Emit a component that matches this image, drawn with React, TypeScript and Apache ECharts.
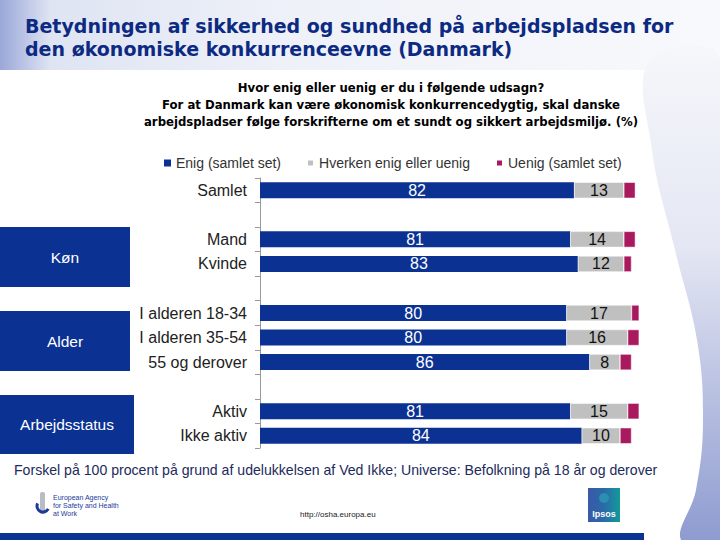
import React, { useEffect, useRef } from "react";
import * as echarts from "echarts";

const categories = [
  "Samlet", "", "Mand", "Kvinde", " ", "I alderen 18-34", "I alderen 35-54", "55 og derover", "  ", "Aktiv", "Ikke aktiv",
];
const enig = [82, null, 81, 83, null, 80, 80, 86, null, 81, 84];
const hverken = [13, null, 14, 12, null, 17, 16, 8, null, 15, 10];
const uenig = [3, null, 3, 2, null, 2, 3, 3, null, 3, 3];
const seriesNames = ["Enig (samlet set)", "Hverken enig eller uenig", "Uenig (samlet set)"];
const groupLabels = ["Køn", "Alder", "Arbejdsstatus"];

const FONT = "'Liberation Sans', Arial, sans-serif";
const WIDE = "'DejaVu Sans', sans-serif";
const NAVY = "#0b3293";
const GREY = "#c0c0c0";
const MAGENTA = "#a8195e";

export default function App() {
  const ref = useRef<HTMLDivElement>(null);
  useEffect(() => {
    document.body.style.margin = "0";
    const chart = echarts.init(ref.current!, null, { renderer: "svg" });
    const groupBox = (label: string, y: number, h: number, w: number) => ({
      type: "group",
      children: [
        { type: "rect", shape: { x: 0, y, width: w, height: h }, style: { fill: NAVY } },
        {
          type: "text",
          x: w / 2,
          y: y + h / 2,
          style: { text: label, fill: "#ffffff", font: `15.5px ${FONT}`, textAlign: "center", textVerticalAlign: "middle" },
        },
      ],
    });
    chart.setOption({
      animation: false,
      backgroundColor: "#ffffff",
      graphic: [
        {
          type: "rect",
          z: -10,
          shape: { x: 0, y: 0, width: 720, height: 70 },
          style: {
            fill: new echarts.graphic.LinearGradient(0, 0, 1, 0, [
              { offset: 0, color: "#9aa7d8" },
              { offset: 0.07, color: "#dfe4f3" },
              { offset: 0.4, color: "#eef1f8" },
              { offset: 1, color: "#f8f9fc" },
            ]),
          },
        },
        {
          type: "polygon",
          z: -9,
          shape: {
            smooth: 0.4,
            points: [
              [650, 60], [652, 150], [675, 250], [697, 340], [703, 420], [696, 490], [681, 540], [720, 540], [720, 60],
            ],
          },
          style: {
            fill: new echarts.graphic.LinearGradient(0, 0, 0, 1, [
              { offset: 0, color: "#f6f7fb" },
              { offset: 0.4, color: "#e4e7f3" },
              { offset: 1, color: "#8c99cf" },
            ]),
          },
        },
        { type: "rect", shape: { x: 0, y: 533, width: 644, height: 7 }, style: { fill: "#0a3392" } },
        {
          type: "text",
          left: 25,
          top: 14,
          style: {
            text: "Betydningen af sikkerhed og sundhed på arbejdspladsen for\nden økonomiske konkurrenceevne (Danmark)",
            fill: "#0c2a82",
            font: `bold 19px ${WIDE}`,
            lineHeight: 23,
          },
        },
        {
          type: "text",
          x: 391,
          y: 79,
          style: {
            text: "Hvor enig eller uenig er du i følgende udsagn?\nFor at Danmark kan være økonomisk konkurrencedygtig, skal danske\narbejdspladser følge forskrifterne om et sundt og sikkert arbejdsmiljø. (%)",
            fill: "#000000",
            font: `bold 11.7px ${WIDE}`,
            lineHeight: 17,
            textAlign: "center",
          },
        },
        groupBox(groupLabels[0], 227, 60, 130),
        groupBox(groupLabels[1], 311, 60, 130),
        groupBox(groupLabels[2], 395, 59, 134),
        {
          type: "text",
          x: 14,
          y: 463,
          style: {
            text: "Forskel på 100 procent på grund af udelukkelsen af Ved Ikke; Universe: Befolkning på 18 år og derover",
            fill: "#1c2a5c",
            font: `14.1px ${FONT}`,
          },
        },
        {
          type: "text",
          x: 300,
          y: 510,
          style: { text: "http://osha.europa.eu", fill: "#222", font: `8px ${FONT}` },
        },
        { type: "rect", shape: { x: 40, y: 492, width: 5, height: 22, r: 2 }, style: { fill: "#b8bcc4" } },
        { type: "arc", shape: { cx: 43, cy: 506, r: 6, startAngle: 0.5, endAngle: 3.6 }, style: { stroke: "#1b3a9a", lineWidth: 3, fill: "none" } },
        {
          type: "text",
          x: 53,
          y: 493,
          style: { text: "European Agency\nfor Safety and Health\nat Work", fill: "#1b3a9a", font: `7px ${FONT}`, lineHeight: 8 },
        },
        {
          type: "rect",
          shape: { x: 588, y: 488, width: 32, height: 34 },
          style: {
            fill: new echarts.graphic.LinearGradient(0, 0, 1, 0, [
              { offset: 0, color: "#3a58a8" },
              { offset: 0.5, color: "#2a6aa8" },
              { offset: 1, color: "#139a9a" },
            ]),
          },
        },
        { type: "circle", shape: { cx: 604, cy: 498, r: 5 }, style: { fill: "#2a8fb0" } },
        {
          type: "text",
          x: 604,
          y: 514,
          style: { text: "Ipsos", fill: "#ffffff", font: `bold 9px ${FONT}`, textAlign: "center", textVerticalAlign: "middle" },
        },
      ],
      legend: {
        top: 151,
        left: 159,
        icon: "rect",
        itemWidth: 7,
        itemHeight: 7,
        itemGap: 25,
        textStyle: { fontFamily: FONT, fontSize: 14, color: "#333" },
        data: seriesNames,
      },
      grid: { left: 260, right: 77, top: 178, bottom: 92, containLabel: false },
      xAxis: { type: "value", min: 0, max: 100, show: false },
      yAxis: {
        type: "category",
        inverse: true,
        data: categories,
        axisLine: { show: true, lineStyle: { color: "#999", width: 1 } },
        axisTick: { show: true, length: 5, lineStyle: { color: "#999" } },
        axisLabel: { fontFamily: FONT, fontSize: 16, color: "#222", margin: 13 },
      },
      series: [
        {
          name: seriesNames[0],
          type: "bar",
          stack: "a",
          barWidth: 16,
          data: enig,
          itemStyle: { color: NAVY },
          label: { show: true, position: "inside", color: "#fff", fontFamily: FONT, fontSize: 16 },
        },
        {
          name: seriesNames[1],
          type: "bar",
          stack: "a",
          barWidth: 16,
          data: hverken,
          itemStyle: { color: GREY, borderColor: "#fff", borderWidth: 0.5 },
          label: { show: true, position: "inside", color: "#111", fontFamily: FONT, fontSize: 16 },
        },
        {
          name: seriesNames[2],
          type: "bar",
          stack: "a",
          barWidth: 16,
          data: uenig,
          itemStyle: { color: MAGENTA, borderColor: "#fff", borderWidth: 0.5 },
        },
      ],
    });
    return () => chart.dispose();
  }, []);
  return <div ref={ref} style={{ position: "fixed", left: 0, top: 0, width: 720, height: 540 }} />;
}
